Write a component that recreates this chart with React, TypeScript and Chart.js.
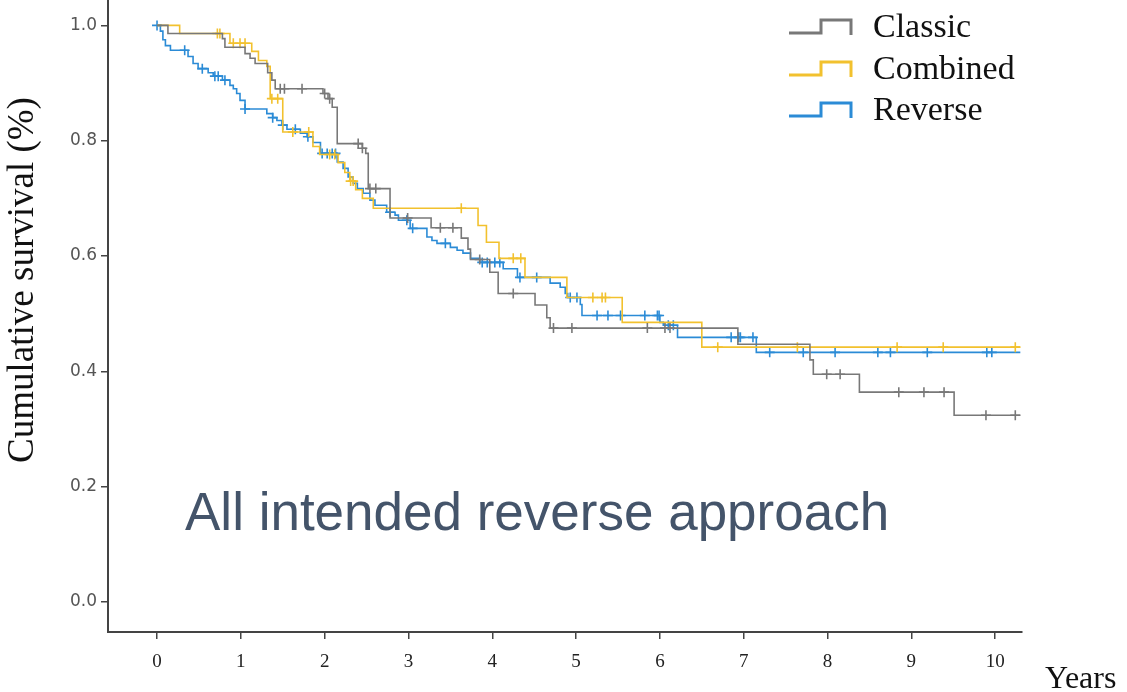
import React, { useEffect, useRef } from "react";
import { Chart, registerables } from "chart.js";
Chart.register(...registerables);

// ---- Data (years, cumulative survival) ----
const classicTimes = [0, 0.13, 0.78, 0.81, 1.05, 1.11, 1.17, 1.32, 1.37, 1.41, 1.98, 2.04, 2.09, 2.15, 2.45, 2.49, 2.52, 2.78, 3.27, 3.63, 3.71, 3.74, 3.97, 4.07, 4.51, 4.65, 4.69, 6.93, 7.79, 7.83, 8.38, 9.51, 10.3];
const classicSurv = [1.0, 0.986, 0.977, 0.962, 0.951, 0.943, 0.934, 0.918, 0.905, 0.89, 0.882, 0.873, 0.858, 0.795, 0.787, 0.778, 0.717, 0.666, 0.649, 0.631, 0.612, 0.594, 0.572, 0.535, 0.515, 0.493, 0.475, 0.447, 0.42, 0.395, 0.364, 0.324, 0.324];
const classicCensorTimes = [1.47, 1.52, 1.73, 2.0, 2.06, 2.4, 2.45, 2.54, 2.61, 2.99, 3.38, 3.53, 3.85, 4.25, 4.73, 4.95, 5.85, 6.06, 6.12, 7.99, 8.15, 8.85, 9.15, 9.39, 9.89, 10.24];
const classicCensorSurv = [0.89, 0.89, 0.89, 0.882, 0.873, 0.795, 0.787, 0.717, 0.717, 0.666, 0.649, 0.649, 0.594, 0.535, 0.475, 0.475, 0.475, 0.475, 0.475, 0.395, 0.395, 0.364, 0.364, 0.364, 0.324, 0.324];

const combinedTimes = [0, 0.27, 0.87, 1.13, 1.21, 1.31, 1.35, 1.5, 1.86, 1.94, 2.16, 2.24, 2.3, 2.37, 2.45, 2.58, 3.83, 3.93, 4.08, 4.39, 4.89, 5.55, 6.5, 10.3];
const combinedSurv = [1.0, 0.986, 0.969, 0.955, 0.939, 0.929, 0.873, 0.815, 0.79, 0.776, 0.762, 0.745, 0.73, 0.715, 0.7, 0.683, 0.653, 0.624, 0.596, 0.563, 0.528, 0.485, 0.442, 0.442];
const combinedCensorTimes = [0.72, 0.75, 0.91, 0.99, 1.05, 1.37, 1.44, 1.62, 1.81, 2.06, 2.12, 2.31, 2.34, 3.63, 4.25, 4.34, 5.2, 5.31, 5.35, 6.69, 7.64, 8.83, 9.38, 10.24];
const combinedCensorSurv = [0.986, 0.986, 0.969, 0.969, 0.969, 0.873, 0.873, 0.815, 0.815, 0.776, 0.776, 0.73, 0.73, 0.683, 0.596, 0.596, 0.528, 0.528, 0.528, 0.442, 0.442, 0.442, 0.442, 0.442];

const reverseTimes = [0, 0.04, 0.07, 0.1, 0.16, 0.37, 0.43, 0.49, 0.61, 0.67, 0.78, 0.87, 0.91, 0.95, 0.99, 1.05, 1.31, 1.38, 1.43, 1.49, 1.55, 1.71, 1.79, 1.86, 1.95, 2.15, 2.22, 2.28, 2.34, 2.39, 2.46, 2.54, 2.6, 2.74, 2.84, 2.88, 3.02, 3.22, 3.28, 3.34, 3.5, 3.58, 3.65, 3.74, 3.85, 4.13, 4.3, 4.69, 4.81, 4.87, 4.9, 5.05, 5.07, 6.0, 6.04, 6.21, 7.15, 10.3];
const reverseSurv = [1.0, 0.99, 0.975, 0.965, 0.957, 0.946, 0.934, 0.925, 0.918, 0.912, 0.905, 0.896, 0.89, 0.882, 0.87, 0.855, 0.847, 0.84, 0.835, 0.827, 0.82, 0.813, 0.807, 0.797, 0.778, 0.763, 0.752, 0.737, 0.726, 0.717, 0.709, 0.697, 0.688, 0.676, 0.671, 0.662, 0.648, 0.633, 0.627, 0.622, 0.615, 0.61, 0.605, 0.596, 0.589, 0.578, 0.563, 0.553, 0.546, 0.535, 0.528, 0.516, 0.497, 0.485, 0.48, 0.459, 0.433, 0.433];
const reverseCensorTimes = [0.0, 0.33, 0.54, 0.69, 0.73, 0.81, 1.05, 1.38, 1.5, 1.65, 1.8, 1.97, 2.03, 2.09, 2.13, 2.78, 2.98, 3.05, 3.44, 3.88, 3.94, 4.03, 4.09, 4.33, 4.53, 4.93, 5.01, 5.25, 5.38, 5.53, 5.82, 5.97, 5.99, 6.1, 6.16, 6.85, 6.94, 6.96, 7.11, 7.31, 7.71, 8.09, 8.6, 8.75, 9.19, 9.9, 9.96];
const reverseCensorSurv = [1.0, 0.957, 0.925, 0.912, 0.912, 0.905, 0.855, 0.84, 0.827, 0.82, 0.807, 0.778, 0.778, 0.778, 0.778, 0.676, 0.662, 0.648, 0.622, 0.589, 0.589, 0.589, 0.589, 0.563, 0.563, 0.528, 0.528, 0.497, 0.497, 0.497, 0.497, 0.497, 0.497, 0.48, 0.48, 0.459, 0.459, 0.459, 0.459, 0.433, 0.433, 0.433, 0.433, 0.433, 0.433, 0.433, 0.433];

const xTickValues = [0, 1, 2, 3, 4, 5, 6, 7, 8, 9, 10];
const yTickValues = [0, 0.2, 0.4, 0.6, 0.8, 1.0];

const seriesNames = ["Classic", "Combined", "Reverse"];
const seriesColors = ["#787878", "#f2c12e", "#2b8bd6"];

const pts = (xs: number[], ys: number[]) => xs.map((x, i) => ({ x, y: ys[i] }));

const SHIFT = 6; // canvas is drawn 6px taller and shifted up so the plot reaches the top edge

export default function App() {
  const ref = useRef<HTMLCanvasElement>(null);
  useEffect(() => {
    document.body.style.margin = "0";
    const series = [
      [classicTimes, classicSurv, classicCensorTimes, classicCensorSurv],
      [combinedTimes, combinedSurv, combinedCensorTimes, combinedCensorSurv],
      [reverseTimes, reverseSurv, reverseCensorTimes, reverseCensorSurv],
    ];
    const datasets: any[] = [];
    series.forEach((s, i) => {
      datasets.push({
        label: seriesNames[i],
        data: pts(s[0], s[1]),
        stepped: "before",
        borderColor: seriesColors[i],
        borderWidth: 1.6,
        pointRadius: 0,
        fill: false,
      });
      datasets.push({
        label: seriesNames[i] + " censored",
        data: pts(s[2], s[3]),
        showLine: false,
        pointStyle: "cross",
        pointRadius: 5,
        borderColor: seriesColors[i],
        backgroundColor: seriesColors[i],
        borderWidth: 1.6,
      });
    });

    const textPlugin = {
      id: "texts",
      afterDraw(chart: any) {
        const ctx = chart.ctx as CanvasRenderingContext2D;
        ctx.save();
        ctx.translate(0, SHIFT);
        // y title
        ctx.save();
        ctx.translate(23, 280);
        ctx.rotate(-Math.PI / 2);
        ctx.fillStyle = "#111";
        ctx.font = '37px "Liberation Serif"';
        ctx.textAlign = "center";
        ctx.textBaseline = "middle";
        ctx.fillText("Cumulative survival (%)", 0, 0);
        ctx.restore();
        // Years
        ctx.fillStyle = "#111";
        ctx.font = '32px "Liberation Serif"';
        ctx.textAlign = "left";
        ctx.textBaseline = "alphabetic";
        ctx.fillText("Years", 1045, 688);
        // overlay text
        ctx.fillStyle = "#44546a";
        ctx.font = '53px "Liberation Sans"';
        ctx.fillText("All intended reverse approach", 185, 530);
        // legend
        const rows = [27, 69, 110];
        rows.forEach((cy, i) => {
          ctx.strokeStyle = seriesColors[i];
          ctx.lineWidth = 3;
          ctx.beginPath();
          ctx.moveTo(789, cy + 6);
          ctx.lineTo(821, cy + 6);
          ctx.lineTo(821, cy - 7);
          ctx.lineTo(851, cy - 7);
          ctx.lineTo(851, cy + 8);
          ctx.stroke();
          ctx.fillStyle = "#111";
          ctx.font = '34px "Liberation Serif"';
          ctx.textBaseline = "middle";
          ctx.fillText(seriesNames[i], 873, cy + 1);
        });
        ctx.restore();
      },
    };

    const chart = new Chart(ref.current as HTMLCanvasElement, {
      type: "line",
      data: { datasets },
      options: {
        animation: false,
        responsive: true,
        maintainAspectRatio: false,
        layout: { padding: { top: 0, right: 105, bottom: 0, left: 0 } },
        plugins: { legend: { display: false }, tooltip: { enabled: false } },
        scales: {
          x: {
            type: "linear",
            min: -0.585,
            max: 10.32,
            afterBuildTicks: (s: any) => {
              s.ticks = xTickValues.map((v) => ({ value: v }));
            },
            afterFit: (s: any) => {
              s.height = 60;
              s.paddingLeft = 0;
              s.paddingRight = 0;
            },
            grid: { drawOnChartArea: false, drawTicks: true, tickLength: 7, color: "#444", lineWidth: 1.5 },
            border: { color: "#444", width: 2 },
            ticks: {
              color: "#222",
              font: { family: "Liberation Serif", size: 19 },
              padding: 12,
              maxRotation: 0,
              callback: (v: any) => String(v),
            },
          },
          y: {
            type: "linear",
            min: -0.052,
            max: 1.043,
            afterBuildTicks: (s: any) => {
              s.ticks = yTickValues.map((v) => ({ value: v }));
            },
            afterFit: (s: any) => {
              s.width = 108;
              s.paddingTop = 0;
              s.paddingBottom = 0;
            },
            grid: { drawOnChartArea: false, drawTicks: true, tickLength: 7, color: "#444", lineWidth: 1.5 },
            border: { color: "#444", width: 2 },
            ticks: {
              color: "#555",
              font: { family: "DejaVu Sans", size: 17 },
              padding: 4,
              callback: (v: any) => Number(v).toFixed(1),
            },
          },
        },
      },
      plugins: [textPlugin],
    });
    return () => chart.destroy();
  }, []);
  return (
    <div style={{ position: "relative", width: 1127, height: 692, overflow: "hidden" }}>
      <div style={{ position: "absolute", left: 0, top: -SHIFT, width: 1127, height: 692 + SHIFT }}>
        <canvas ref={ref} />
      </div>
    </div>
  );
}
